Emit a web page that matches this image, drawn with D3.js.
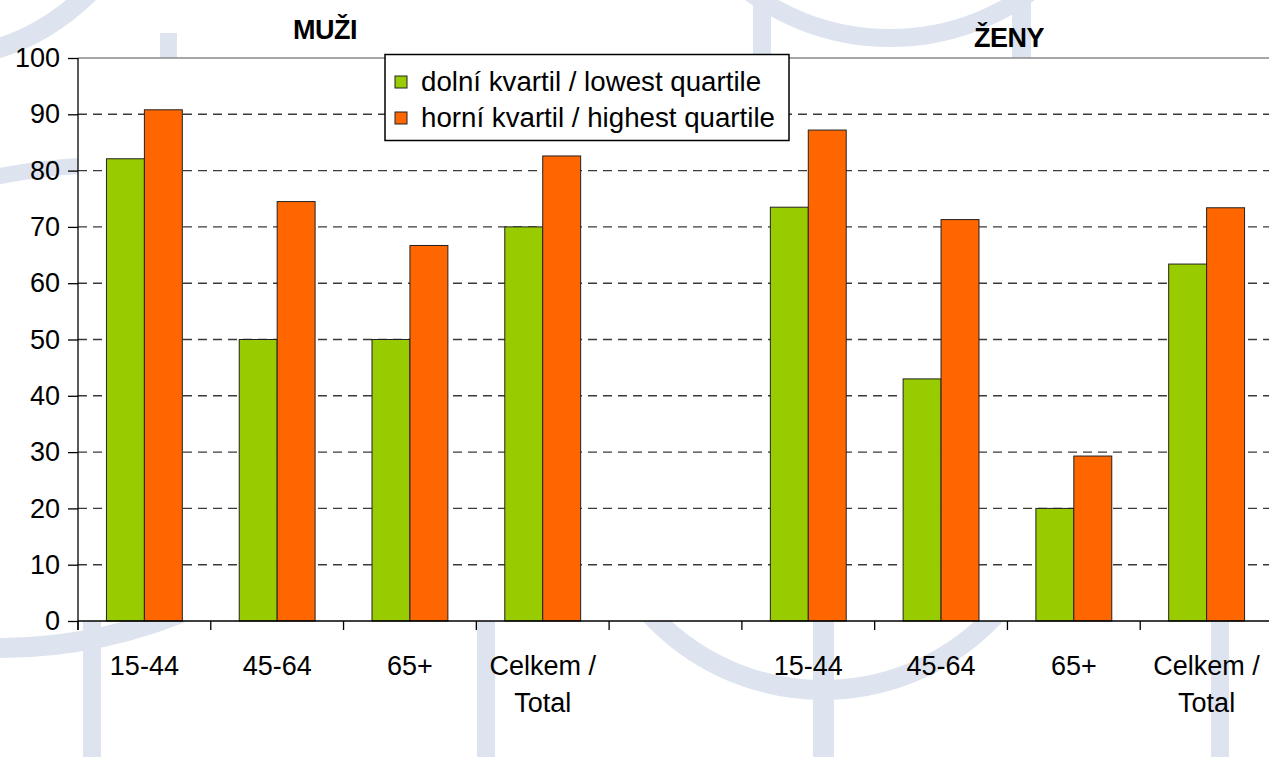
<!DOCTYPE html>
<html>
<head>
<meta charset="utf-8">
<script src="https://cdn.jsdelivr.net/npm/d3@7"></script>
<style>
  html, body { margin: 0; padding: 0; background: #fff; overflow: hidden; }
  svg { display: block; }
  text { font-family: "Liberation Sans", Arial, sans-serif; fill: #000; }
</style>
</head>
<body>
<div id="chart"></div>
<script>
// ---- data ----
const categories = ["15-44", "45-64", "65+", "Celkem / Total", "", "15-44", "45-64", "65+", "Celkem / Total"];
const lowerQuartile = [82.1, 50, 50, 70, null, 73.5, 43, 20, 63.4];
const upperQuartile = [90.8, 74.5, 66.7, 82.6, null, 87.2, 71.3, 29.3, 73.4];
const seriesNames = ["dolní kvartil / lowest quartile", "horní kvartil / highest quartile"];
const seriesColors = ["#99CC00", "#FF6600"];
const yTicks = [0, 10, 20, 30, 40, 50, 60, 70, 80, 90, 100];
const groupTitles = ["MUŽI", "ŽENY"];

// ---- layout ----
const W = 1269, H = 757;
const L = 78, R = 1273, T = 58, B = 621;

const svg = d3.select("#chart").append("svg").attr("width", W).attr("height", H);
svg.append("rect").attr("width", W).attr("height", H).attr("fill", "#fff");

// ---- faint background watermark ----
const wm = svg.append("g").attr("fill", "none").attr("stroke", "#dde4ef");
wm.append("circle").attr("cx", 823).attr("cy", 455).attr("r", 235).attr("stroke-width", 20);
wm.append("circle").attr("cx", 890).attr("cy", -200).attr("r", 238).attr("stroke-width", 18);
wm.append("path").attr("d", "M -10 648 A 498 498 0 0 0 200 605").attr("stroke-width", 20);
wm.append("path").attr("d", "M -8 50 Q 45 36 90 -8").attr("stroke-width", 20);
wm.append("path").attr("d", "M -5 177 Q 40 168 80 166").attr("stroke-width", 16);
const wmf = svg.append("g").attr("fill", "#dde4ef");
[[83, 18], [477, 18], [813, 21], [1211, 18]].forEach(([x0, w]) =>
  wmf.append("rect").attr("x", x0).attr("y", B).attr("width", w).attr("height", H - B));
wmf.append("rect").attr("x", 160).attr("y", 33).attr("width", 17).attr("height", T - 33);
wmf.append("rect").attr("x", 753).attr("y", 0).attr("width", 18).attr("height", T);
wmf.append("rect").attr("x", 1012).attr("y", 0).attr("width", 19).attr("height", T);

// ---- scales ----
const x = d3.scaleBand().domain(d3.range(categories.length)).range([L, R]).paddingInner(0).paddingOuter(0);
const xs = d3.scaleBand().domain([0, 1]).range([0, x.bandwidth()]).paddingInner(0).paddingOuter(0.75);
const y = d3.scaleLinear().domain([0, 100]).range([B, T]);

// plot area
svg.append("rect").attr("x", L).attr("y", T).attr("width", W - L + 10).attr("height", B - T).attr("fill", "#fff");

// gridlines
svg.append("g").selectAll("line").data(yTicks.filter(d => d > 0 && d < 100)).join("line")
  .attr("x1", L).attr("x2", R).attr("y1", d => y(d)).attr("y2", d => y(d))
  .attr("stroke", "#3a3a3a").attr("stroke-width", 1.4).attr("stroke-dasharray", "9,6");
svg.append("line").attr("x1", L).attr("x2", W).attr("y1", y(100)).attr("y2", y(100))
  .attr("stroke", "#8a8a8a").attr("stroke-width", 1.5);

// bars
const series = [lowerQuartile, upperQuartile];
series.forEach((vals, si) => {
  svg.append("g").selectAll("rect")
    .data(vals.map((v, i) => ({ i, v })).filter(d => d.v != null))
    .join("rect")
    .attr("x", d => x(d.i) + xs(si))
    .attr("y", d => y(d.v))
    .attr("width", xs.bandwidth())
    .attr("height", d => y(0) - y(d.v))
    .attr("fill", seriesColors[si])
    .attr("stroke", "#222").attr("stroke-width", 1);
});

// y axis
const yAxis = svg.append("g").attr("transform", `translate(${L},0)`)
  .call(d3.axisLeft(y).tickValues(yTicks).tickSize(10).tickPadding(8).tickFormat(d3.format("d")));
yAxis.select(".domain").attr("stroke", "#000").attr("stroke-width", 1.3).attr("d", `M0,${B + 9}V${T}`);
yAxis.selectAll(".tick line").attr("stroke", "#000").attr("stroke-width", 1.3);
yAxis.selectAll(".tick text").attr("font-size", 27).attr("font-family", "'Liberation Sans', Arial, sans-serif").attr("fill", "#000");

// x axis
const xAxis = svg.append("g").attr("transform", `translate(0,${B})`)
  .call(d3.axisBottom(x).tickSize(0).tickFormat(""));
xAxis.select(".domain").attr("stroke", "#000").attr("stroke-width", 1.3).attr("d", `M${L},0H${W}`);
const bounds = d3.range(categories.length).map(i => x(i)).concat([x(categories.length - 1) + x.bandwidth()]);
xAxis.append("g").selectAll("line").data(bounds).join("line")
  .attr("x1", d => d).attr("x2", d => d).attr("y1", 0).attr("y2", 9)
  .attr("stroke", "#000").attr("stroke-width", 1.3);
xAxis.selectAll(".tick").each(function(d) {
  const g = d3.select(this);
  const label = categories[d];
  const parts = label.includes(" / ") ? [label.split(" / ")[0] + " /", label.split(" / ")[1]] : [label];
  const t = g.append("text").attr("text-anchor", "middle").attr("font-size", 27).attr("fill", "#000");
  parts.forEach((p, k) => t.append("tspan").attr("x", 0).attr("y", 54 + k * 37).text(p));
});

// group titles
svg.append("text").attr("x", 325).attr("y", 39).attr("text-anchor", "middle")
  .attr("font-size", 27).attr("font-weight", "bold").attr("letter-spacing", -0.5).text(groupTitles[0]);
svg.append("text").attr("x", 1009).attr("y", 47).attr("text-anchor", "middle")
  .attr("font-size", 27).attr("font-weight", "bold").attr("letter-spacing", -0.5).text(groupTitles[1]);

// legend
const lg = svg.append("g");
lg.append("rect").attr("x", 385).attr("y", 54.5).attr("width", 404).attr("height", 86)
  .attr("fill", "#fff").attr("stroke", "#000").attr("stroke-width", 1.5);
seriesNames.forEach((name, i) => {
  const cy = 82 + i * 36;
  lg.append("rect").attr("x", 395).attr("y", cy - 6).attr("width", 12).attr("height", 12)
    .attr("fill", seriesColors[i]).attr("stroke", "#222").attr("stroke-width", 1);
  lg.append("text").attr("x", 421).attr("y", cy + 9).attr("font-size", 27.7).text(name);
});
</script>
</body>
</html>
